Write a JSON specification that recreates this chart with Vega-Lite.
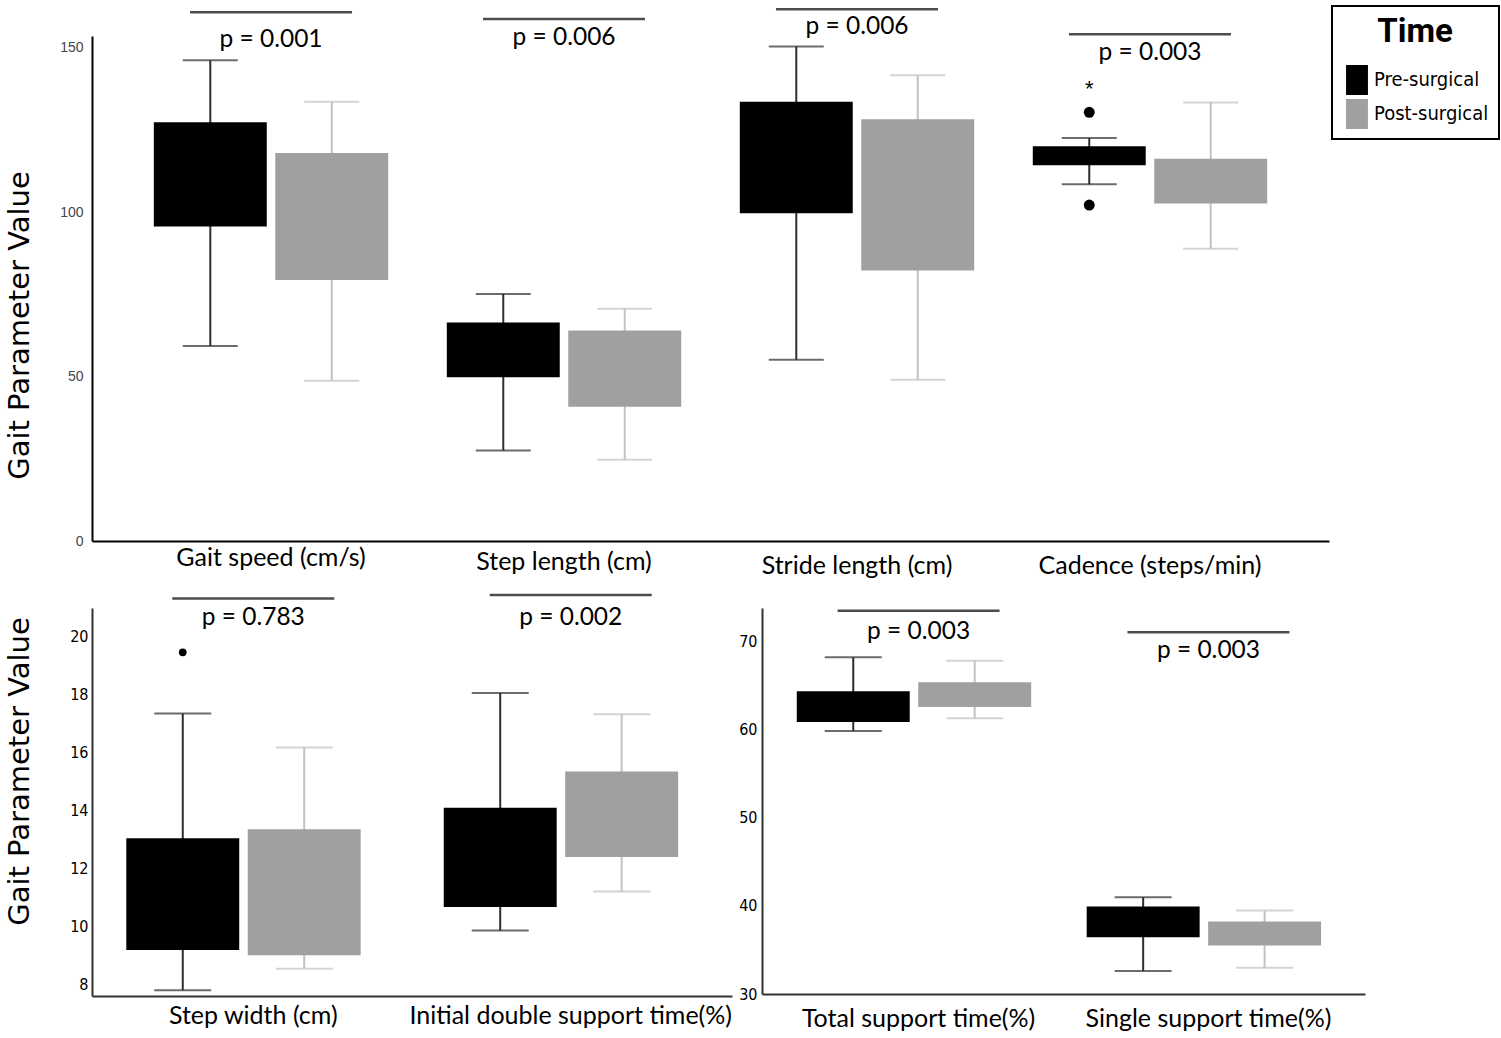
{
  "$schema": "https://vega.github.io/schema/vega-lite/v6.json",
  "background": "white",
  "padding": {"left": 5, "top": 5, "right": 0, "bottom": 2},
  "bounds": "flush",
  "spacing": 67,
  "config": {
    "view": {"stroke": null},
    "axis": {"ticks": false, "grid": false, "domainColor": "#000", "domainWidth": 2, "labelColor": "#000", "titleColor": "#000"}
  },
  "datasets": {
    "boxes": [
      {"panel": "A", "group": "Gait speed (cm/s)", "time": "Pre-surgical", "lo": 59.3, "q1": 95.6, "q3": 127.3, "hi": 146.1},
      {"panel": "A", "group": "Gait speed (cm/s)", "time": "Post-surgical", "lo": 48.7, "q1": 79.3, "q3": 117.9, "hi": 133.5},
      {"panel": "A", "group": "Step length (cm)", "time": "Pre-surgical", "lo": 27.5, "q1": 49.8, "q3": 66.4, "hi": 75.1},
      {"panel": "A", "group": "Step length (cm)", "time": "Post-surgical", "lo": 24.7, "q1": 40.8, "q3": 64.0, "hi": 70.6},
      {"panel": "A", "group": "Stride length (cm)", "time": "Pre-surgical", "lo": 55.1, "q1": 99.6, "q3": 133.5, "hi": 150.3},
      {"panel": "A", "group": "Stride length (cm)", "time": "Post-surgical", "lo": 49.0, "q1": 82.2, "q3": 128.2, "hi": 141.6},
      {"panel": "A", "group": "Cadence (steps/min)", "time": "Pre-surgical", "lo": 108.4, "q1": 114.2, "q3": 120.0, "hi": 122.5},
      {"panel": "A", "group": "Cadence (steps/min)", "time": "Post-surgical", "lo": 88.8, "q1": 102.6, "q3": 116.2, "hi": 133.3},
      {"panel": "B", "group": "Step width (cm)", "time": "Pre-surgical", "lo": 7.79, "q1": 9.18, "q3": 13.04, "hi": 17.35},
      {"panel": "B", "group": "Step width (cm)", "time": "Post-surgical", "lo": 8.53, "q1": 9.0, "q3": 13.35, "hi": 16.18},
      {"panel": "B", "group": "Initial double support time(%)", "time": "Pre-surgical", "lo": 9.85, "q1": 10.67, "q3": 14.1, "hi": 18.06},
      {"panel": "B", "group": "Initial double support time(%)", "time": "Post-surgical", "lo": 11.2, "q1": 12.39, "q3": 15.35, "hi": 17.33},
      {"panel": "C", "group": "Total support time(%)", "time": "Pre-surgical", "lo": 59.85, "q1": 60.86, "q3": 64.36, "hi": 68.2},
      {"panel": "C", "group": "Total support time(%)", "time": "Post-surgical", "lo": 61.28, "q1": 62.56, "q3": 65.38, "hi": 67.82},
      {"panel": "C", "group": "Single support time(%)", "time": "Pre-surgical", "lo": 32.6, "q1": 36.43, "q3": 39.92, "hi": 40.98},
      {"panel": "C", "group": "Single support time(%)", "time": "Post-surgical", "lo": 32.97, "q1": 35.49, "q3": 38.23, "hi": 39.47}
    ],
    "outliers": [
      {"panel": "A", "group": "Cadence (steps/min)", "time": "Pre-surgical", "value": 130.3, "kind": "outlier"},
      {"panel": "A", "group": "Cadence (steps/min)", "time": "Pre-surgical", "value": 102.1, "kind": "outlier"},
      {"panel": "A", "group": "Cadence (steps/min)", "time": "Pre-surgical", "value": 139.7, "kind": "extreme"},
      {"panel": "B", "group": "Step width (cm)", "time": "Pre-surgical", "value": 19.47, "kind": "outlier"}
    ],
    "tests": [
      {"panel": "A", "group": "Gait speed (cm/s)", "bar": 160.7, "texty": 152.2, "label": "p = 0.001"},
      {"panel": "A", "group": "Step length (cm)", "bar": 158.7, "texty": 152.8, "label": "p = 0.006"},
      {"panel": "A", "group": "Stride length (cm)", "bar": 161.6, "texty": 156.2, "label": "p = 0.006"},
      {"panel": "A", "group": "Cadence (steps/min)", "bar": 154.0, "texty": 148.3, "label": "p = 0.003"},
      {"panel": "B", "group": "Step width (cm)", "bar": 21.33, "texty": 20.65, "label": "p = 0.783"},
      {"panel": "B", "group": "Initial double support time(%)", "bar": 21.45, "texty": 20.65, "label": "p = 0.002"},
      {"panel": "C", "group": "Total support time(%)", "bar": 73.5, "texty": 71.1, "label": "p = 0.003"},
      {"panel": "C", "group": "Single support time(%)", "bar": 71.05, "texty": 68.94, "label": "p = 0.003"}
    ]
  },
  "vconcat": [
    {
      "width": 1237,
      "height": 505,
      "encoding": {
        "x": {
          "field": "group", "type": "nominal",
          "sort": ["Gait speed (cm/s)", "Step length (cm)", "Stride length (cm)", "Cadence (steps/min)"],
          "scale": {"paddingInner": 0.2, "paddingOuter": 0.211},
          "axis": {
            "title": null, "labelAngle": 0, "labelFont": "Lato", "labelFontSize": 25, "labelLimit": 0,
            "labelPadding": {"condition": [
              {"test": "datum.value === 'Gait speed (cm/s)'", "value": 4},
              {"test": "datum.value === 'Step length (cm)'", "value": 8}
            ], "value": 12}
          }
        }
      },
      "layer": [
        {
          "data": {"name": "boxes"},
          "transform": [{"filter": "datum.panel === 'A'"}],
          "mark": {"type": "rule", "strokeWidth": 2},
          "encoding": {
            "xOffset": {"field": "time", "type": "nominal", "sort": ["Pre-surgical", "Post-surgical"], "scale": {"paddingInner": 0.07}},
            "y": {
              "field": "lo", "type": "quantitative",
              "scale": {"domain": [0, 153.5], "nice": false, "zero": false},
              "axis": {
                "values": [0, 50, 100, 150], "title": "Gait Parameter Value",
                "titleFont": "DejaVu Sans", "titleFontSize": 29, "titleFontWeight": "normal",
                "titleX": -58, "titleY": 289,
                "labelFont": "Liberation Sans", "labelFontSize": 14, "labelColor": "#444", "labelPadding": 9
              }
            },
            "y2": {"field": "hi"},
            "color": {"condition": {"test": "datum.time === 'Pre-surgical'", "value": "#2e2e2e"}, "value": "#c2c2c2"}
          }
        },
        {
          "data": {"name": "boxes"},
          "transform": [{"filter": "datum.panel === 'A'"}],
          "mark": {"type": "tick", "orient": "horizontal", "size": 55, "thickness": 2},
          "encoding": {
            "xOffset": {"field": "time", "type": "nominal", "sort": ["Pre-surgical", "Post-surgical"]},
            "y": {"field": "lo", "type": "quantitative"},
            "color": {"condition": {"test": "datum.time === 'Pre-surgical'", "value": "#2e2e2e"}, "value": "#c2c2c2"}
          }
        },
        {
          "data": {"name": "boxes"},
          "transform": [{"filter": "datum.panel === 'A'"}],
          "mark": {"type": "tick", "orient": "horizontal", "size": 55, "thickness": 2},
          "encoding": {
            "xOffset": {"field": "time", "type": "nominal", "sort": ["Pre-surgical", "Post-surgical"]},
            "y": {"field": "hi", "type": "quantitative"},
            "color": {"condition": {"test": "datum.time === 'Pre-surgical'", "value": "#2e2e2e"}, "value": "#c2c2c2"}
          }
        },
        {
          "data": {"name": "boxes"},
          "transform": [{"filter": "datum.panel === 'A'"}],
          "mark": {"type": "bar", "opacity": 1},
          "encoding": {
            "xOffset": {"field": "time", "type": "nominal", "sort": ["Pre-surgical", "Post-surgical"]},
            "y": {"field": "q1", "type": "quantitative"},
            "y2": {"field": "q3"},
            "color": {
              "field": "time", "type": "nominal",
              "scale": {"domain": ["Pre-surgical", "Post-surgical"], "range": ["#000000", "#a0a0a0"]},
              "legend": {
                "orient": "none", "legendX": 1240, "legendY": -30,
                "title": "Time", "titleFont": "Roboto", "titleFontSize": 33, "titleFontWeight": "bold",
                "titleAnchor": "middle", "titlePadding": 16, "titleColor": "#000",
                "labelFont": "DejaVu Sans Condensed, Roboto", "labelFontSize": 20, "labelColor": "#000", "labelOffset": 2,
                "symbolType": "M-0.73,-1H0.73V1H-0.73Z", "symbolSize": 900, "symbolStrokeWidth": 0, "symbolOpacity": 1,
                "rowPadding": 4, "padding": 10, "strokeColor": "#000",
                "encode": {"legend": {"update": {"strokeWidth": {"value": 2}}}}
              }
            }
          }
        },
        {
          "data": {"name": "outliers"},
          "transform": [{"filter": "datum.panel === 'A' && datum.kind === 'outlier'"}],
          "mark": {"type": "point", "filled": true, "shape": "circle", "size": 120, "color": "#000", "opacity": 1},
          "encoding": {
            "xOffset": {"field": "time", "type": "nominal", "sort": ["Pre-surgical", "Post-surgical"]},
            "y": {"field": "value", "type": "quantitative"}
          }
        },
        {
          "data": {"name": "outliers"},
          "transform": [{"filter": "datum.panel === 'A' && datum.kind === 'extreme'"}],
          "mark": {"type": "text", "text": "*", "fontSize": 22, "font": "Liberation Sans", "color": "#000", "dy": 8},
          "encoding": {
            "xOffset": {"field": "time", "type": "nominal", "sort": ["Pre-surgical", "Post-surgical"]},
            "y": {"field": "value", "type": "quantitative"}
          }
        },
        {
          "data": {"name": "tests"},
          "transform": [{"filter": "datum.panel === 'A'"}],
          "mark": {"type": "tick", "orient": "horizontal", "size": 162, "thickness": 2.5, "color": "#000"},
          "encoding": {"y": {"field": "bar", "type": "quantitative"}}
        },
        {
          "data": {"name": "tests"},
          "transform": [{"filter": "datum.panel === 'A'"}],
          "mark": {"type": "text", "font": "Lato", "fontSize": 24.5, "color": "#000", "baseline": "middle", "align": "center"},
          "encoding": {"y": {"field": "texty", "type": "quantitative"}, "text": {"field": "label"}}
        }
      ]
    },
    {
      "bounds": "flush",
      "spacing": 30,
      "hconcat": [
        {
          "width": 640,
          "height": 388,
          "encoding": {
            "x": {
              "field": "group", "type": "nominal",
              "sort": ["Step width (cm)", "Initial double support time(%)"],
              "scale": {"paddingInner": 0.2, "paddingOuter": 0.108},
              "axis": {"title": null, "labelAngle": 0, "labelFont": "Lato", "labelFontSize": 25, "labelLimit": 0, "labelPadding": 7, "domainColor": "#333"}
            }
          },
          "layer": [
            {
              "data": {"name": "boxes"},
              "transform": [{"filter": "datum.panel === 'B'"}],
              "mark": {"type": "rule", "strokeWidth": 2},
              "encoding": {
                "xOffset": {"field": "time", "type": "nominal", "sort": ["Pre-surgical", "Post-surgical"], "scale": {"paddingInner": 0.07}},
                "y": {
                  "field": "lo", "type": "quantitative",
                  "scale": {"domain": [7.59, 21.0], "nice": false, "zero": false},
                  "axis": {
                    "values": [8, 10, 12, 14, 16, 18, 20], "title": "Gait Parameter Value",
                    "titleFont": "DejaVu Sans", "titleFontSize": 29, "titleFontWeight": "normal",
                    "titleX": -58, "titleY": 163, "domainColor": "#333",
                    "labelFont": "DejaVu Sans Condensed, Roboto", "labelFontSize": 16, "labelPadding": 4
                  }
                },
                "y2": {"field": "hi"},
                "color": {"condition": {"test": "datum.time === 'Pre-surgical'", "value": "#2e2e2e"}, "value": "#c2c2c2"}
              }
            },
            {
              "data": {"name": "boxes"},
              "transform": [{"filter": "datum.panel === 'B'"}],
              "mark": {"type": "tick", "orient": "horizontal", "size": 57, "thickness": 2},
              "encoding": {
                "xOffset": {"field": "time", "type": "nominal", "sort": ["Pre-surgical", "Post-surgical"]},
                "y": {"field": "lo", "type": "quantitative"},
                "color": {"condition": {"test": "datum.time === 'Pre-surgical'", "value": "#2e2e2e"}, "value": "#c2c2c2"}
              }
            },
            {
              "data": {"name": "boxes"},
              "transform": [{"filter": "datum.panel === 'B'"}],
              "mark": {"type": "tick", "orient": "horizontal", "size": 57, "thickness": 2},
              "encoding": {
                "xOffset": {"field": "time", "type": "nominal", "sort": ["Pre-surgical", "Post-surgical"]},
                "y": {"field": "hi", "type": "quantitative"},
                "color": {"condition": {"test": "datum.time === 'Pre-surgical'", "value": "#2e2e2e"}, "value": "#c2c2c2"}
              }
            },
            {
              "data": {"name": "boxes"},
              "transform": [{"filter": "datum.panel === 'B'"}],
              "mark": {"type": "bar", "opacity": 1},
              "encoding": {
                "xOffset": {"field": "time", "type": "nominal", "sort": ["Pre-surgical", "Post-surgical"]},
                "y": {"field": "q1", "type": "quantitative"},
                "y2": {"field": "q3"},
                "color": {"condition": {"test": "datum.time === 'Pre-surgical'", "value": "#000000"}, "value": "#a0a0a0"}
              }
            },
            {
              "data": {"name": "outliers"},
              "transform": [{"filter": "datum.panel === 'B' && datum.kind === 'outlier'"}],
              "mark": {"type": "point", "filled": true, "shape": "circle", "size": 60, "color": "#000", "opacity": 1},
              "encoding": {
                "xOffset": {"field": "time", "type": "nominal", "sort": ["Pre-surgical", "Post-surgical"]},
                "y": {"field": "value", "type": "quantitative"}
              }
            },
            {
              "data": {"name": "tests"},
              "transform": [{"filter": "datum.panel === 'B'"}],
              "mark": {"type": "tick", "orient": "horizontal", "size": 162, "thickness": 2.5, "color": "#000"},
              "encoding": {"y": {"field": "bar", "type": "quantitative"}}
            },
            {
              "data": {"name": "tests"},
              "transform": [{"filter": "datum.panel === 'B'"}],
              "mark": {"type": "text", "font": "Lato", "fontSize": 24.5, "color": "#000", "baseline": "middle", "align": "center"},
              "encoding": {"y": {"field": "texty", "type": "quantitative"}, "text": {"field": "label"}}
            }
          ]
        },
        {
          "width": 603,
          "height": 386,
          "encoding": {
            "x": {
              "field": "group", "type": "nominal",
              "sort": ["Total support time(%)", "Single support time(%)"],
              "scale": {"paddingInner": 0.16, "paddingOuter": 0.12},
              "axis": {"title": null, "labelAngle": 0, "labelFont": "Lato", "labelFontSize": 25, "labelLimit": 0, "labelPadding": 12, "domainColor": "#333"}
            }
          },
          "layer": [
            {
              "data": {"name": "boxes"},
              "transform": [{"filter": "datum.panel === 'C'"}],
              "mark": {"type": "rule", "strokeWidth": 2},
              "encoding": {
                "xOffset": {"field": "time", "type": "nominal", "sort": ["Pre-surgical", "Post-surgical"], "scale": {"paddingInner": 0.07}},
                "y": {
                  "field": "lo", "type": "quantitative",
                  "scale": {"domain": [30, 73.8], "nice": false, "zero": false},
                  "axis": {
                    "values": [30, 40, 50, 60, 70], "title": null, "domainColor": "#333",
                    "labelFont": "DejaVu Sans Condensed, Roboto", "labelFontSize": 16, "labelPadding": 5
                  }
                },
                "y2": {"field": "hi"},
                "color": {"condition": {"test": "datum.time === 'Pre-surgical'", "value": "#2e2e2e"}, "value": "#c2c2c2"}
              }
            },
            {
              "data": {"name": "boxes"},
              "transform": [{"filter": "datum.panel === 'C'"}],
              "mark": {"type": "tick", "orient": "horizontal", "size": 57, "thickness": 2},
              "encoding": {
                "xOffset": {"field": "time", "type": "nominal", "sort": ["Pre-surgical", "Post-surgical"]},
                "y": {"field": "lo", "type": "quantitative"},
                "color": {"condition": {"test": "datum.time === 'Pre-surgical'", "value": "#2e2e2e"}, "value": "#c2c2c2"}
              }
            },
            {
              "data": {"name": "boxes"},
              "transform": [{"filter": "datum.panel === 'C'"}],
              "mark": {"type": "tick", "orient": "horizontal", "size": 57, "thickness": 2},
              "encoding": {
                "xOffset": {"field": "time", "type": "nominal", "sort": ["Pre-surgical", "Post-surgical"]},
                "y": {"field": "hi", "type": "quantitative"},
                "color": {"condition": {"test": "datum.time === 'Pre-surgical'", "value": "#2e2e2e"}, "value": "#c2c2c2"}
              }
            },
            {
              "data": {"name": "boxes"},
              "transform": [{"filter": "datum.panel === 'C'"}],
              "mark": {"type": "bar", "opacity": 1},
              "encoding": {
                "xOffset": {"field": "time", "type": "nominal", "sort": ["Pre-surgical", "Post-surgical"]},
                "y": {"field": "q1", "type": "quantitative"},
                "y2": {"field": "q3"},
                "color": {"condition": {"test": "datum.time === 'Pre-surgical'", "value": "#000000"}, "value": "#a0a0a0"}
              }
            },
            {
              "data": {"name": "tests"},
              "transform": [{"filter": "datum.panel === 'C'"}],
              "mark": {"type": "tick", "orient": "horizontal", "size": 162, "thickness": 2.5, "color": "#000"},
              "encoding": {"y": {"field": "bar", "type": "quantitative"}}
            },
            {
              "data": {"name": "tests"},
              "transform": [{"filter": "datum.panel === 'C'"}],
              "mark": {"type": "text", "font": "Lato", "fontSize": 24.5, "color": "#000", "baseline": "middle", "align": "center"},
              "encoding": {"y": {"field": "texty", "type": "quantitative"}, "text": {"field": "label"}}
            }
          ]
        }
      ]
    }
  ]
}
